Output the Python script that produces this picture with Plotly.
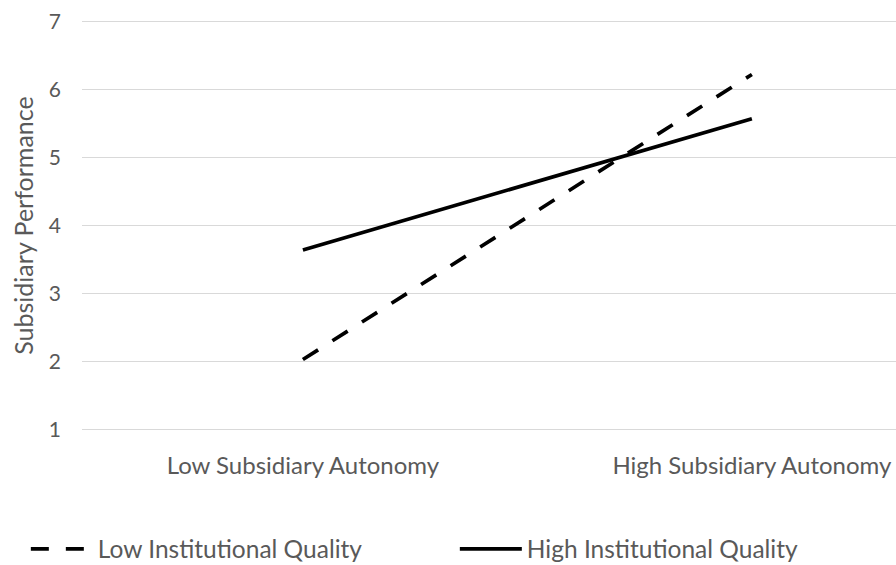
import plotly.graph_objects as go

categories = ["Low Subsidiary Autonomy", "High Subsidiary Autonomy"]
cat_pos = [0, 1]
low_iq = [2.03, 6.22]
high_iq = [3.64, 5.57]
y_ticks = [1, 2, 3, 4, 5, 6, 7]

FONT = "Lato"
GREY = "#595959"

fig = go.Figure()
fig.add_trace(go.Scatter(
    x=cat_pos, y=low_iq, mode="lines", name="Low Institutional Quality",
    line=dict(color="black", width=3.7, dash="18px,17px")))
fig.add_trace(go.Scatter(
    x=cat_pos, y=high_iq, mode="lines", name="High Institutional Quality",
    line=dict(color="black", width=3.7)))

fig.update_layout(
    width=896, height=565,
    margin=dict(l=82, r=0, t=20, b=134, autoexpand=False),
    paper_bgcolor="white", plot_bgcolor="white",
    font=dict(family=FONT, size=24, color=GREY),
    showlegend=True,
    legend=dict(orientation="h", x=-0.069, xanchor="left", y=-0.287, yanchor="middle",
                font=dict(family=FONT, size=24.5, color=GREY),
                itemwidth=62, entrywidth=352, entrywidthmode="pixels",
                bgcolor="rgba(0,0,0,0)"),
)
fig.update_xaxes(
    range=[-0.492, 1.321], tickvals=cat_pos, ticktext=categories,
    showgrid=False, zeroline=False, showline=False, ticks="",
    ticklabelstandoff=18, ticklabeloverflow="allow",
    tickfont=dict(family=FONT, size=24, color=GREY))
fig.update_yaxes(
    range=[0.98, 7.02], tickvals=y_ticks, showgrid=True, gridcolor="#d9d9d9", gridwidth=1,
    zeroline=False, showline=False, ticks="", ticklabelstandoff=20,
    ticklabeloverflow="allow",
    tickfont=dict(family=FONT, size=21, color=GREY),
    title=dict(text="Subsidiary Performance", standoff=8,
               font=dict(family=FONT, size=25, color=GREY)))

fig.write_html("out.html", post_script="document.body.style.margin='0';",
               config={"displayModeBar": False})
